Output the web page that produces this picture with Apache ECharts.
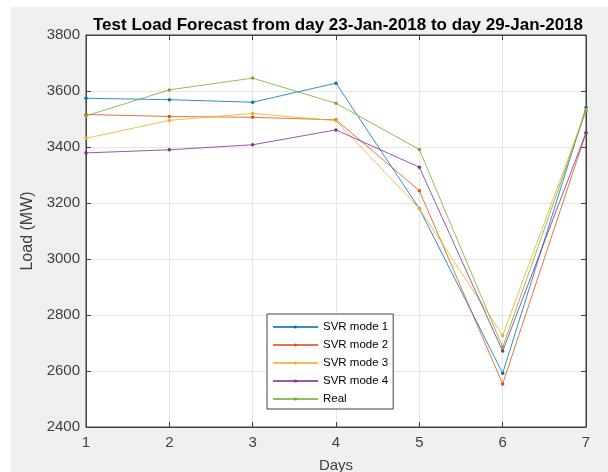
<!DOCTYPE html>
<html>
<head>
<meta charset="utf-8">
<script src="https://cdn.jsdelivr.net/npm/echarts@6/dist/echarts.min.js"></script>
<style>
  html, body { margin: 0; padding: 0; background: #fff; }
  #chart { width: 608px; height: 472px; }
</style>
</head>
<body>
<div id="chart"></div>
<script>
// days on the x axis
var days = [1, 2, 3, 4, 5, 6, 7];
var yTicks = [2400, 2600, 2800, 3000, 3200, 3400, 3600, 3800];

// load values (MW)
var svrMode1 = [3574, 3569, 3560, 3628, 3180, 2592, 3541];
var svrMode2 = [3516, 3509, 3506, 3497, 3244, 2554, 3450];
var svrMode3 = [3431, 3495, 3520, 3494, 3180, 2727, 3532];
var svrMode4 = [3379, 3390, 3408, 3461, 3328, 2671, 3451];
var realLoad = [3511, 3604, 3646, 3556, 3391, 2685, 3529];

var seriesNames = ['SVR mode 1', 'SVR mode 2', 'SVR mode 3', 'SVR mode 4', 'Real'];
var seriesColors = ['#0072BD', '#D95319', '#EDB120', '#7E2F8E', '#77AC30'];
var seriesValues = [svrMode1, svrMode2, svrMode3, svrMode4, realLoad];

var axisColor = '#404040';
var font = '"Liberation Sans", Arial, Helvetica, sans-serif';

function pairs(vals) {
    return days.map(function (d, i) { return [d, vals[i]]; });
}

var series = seriesNames.map(function (name, i) {
    return {
        name: name,
        type: 'line',
        data: pairs(seriesValues[i]),
        symbol: 'circle',
        symbolSize: 3.5,
        showSymbol: true,
        animation: false,
        lineStyle: { width: 1, color: seriesColors[i], opacity: 0.8 },
        itemStyle: { color: seriesColors[i] },
        emphasis: { disabled: true }
    };
});

var chart = echarts.init(document.getElementById('chart'));
var option = {
    animation: false,
    graphic: [{
        type: 'rect',
        left: 11, top: 7,
        shape: { width: 597, height: 465 },
        style: { fill: '#f0f0f0' },
        z: -10
    }],
    title: {
        text: 'Test Load Forecast from day 23-Jan-2018 to day 29-Jan-2018',
        left: 333, top: 12, textAlign: 'center',
        textStyle: { fontFamily: font, fontSize: 17, fontWeight: 'bold', color: '#000' }
    },
    grid: {
        left: 86, right: 22, top: 35, bottom: 45,
        outerBoundsMode: 'none',
        show: true, backgroundColor: '#fff', borderColor: axisColor, borderWidth: 1
    },
    legend: {
        orient: 'vertical',
        left: 267, top: 314,
        data: seriesNames,
        itemWidth: 45, itemHeight: 4, itemGap: 6,
        padding: [7, 5, 4, 5],
        backgroundColor: '#fff',
        borderColor: axisColor, borderWidth: 1,
        textStyle: { fontFamily: font, fontSize: 11.5, color: '#000', padding: [0, 0, 0, 0] }
    },
    xAxis: [{
        type: 'value', min: 1, max: 7, interval: 1,
        name: 'Days', nameLocation: 'middle', nameGap: 31,
        nameTextStyle: { fontFamily: font, fontSize: 15, color: axisColor },
        axisLine: { show: true, lineStyle: { color: axisColor } },
        axisTick: { show: true, inside: true, length: 5, lineStyle: { color: axisColor } },
        axisLabel: { fontFamily: font, fontSize: 15, color: axisColor, margin: 8 },
        splitLine: { show: true, lineStyle: { color: '#e6e6e6' } }
    }, {
        type: 'value', min: 1, max: 7, interval: 1, position: 'top',
        axisLine: { show: true, lineStyle: { color: axisColor } },
        axisTick: { show: true, inside: true, length: 5, lineStyle: { color: axisColor } },
        axisLabel: { show: false }, splitLine: { show: false }
    }],
    yAxis: [{
        type: 'value', min: yTicks[0], max: yTicks[yTicks.length - 1], interval: 200,
        name: 'Load (MW)', nameLocation: 'middle', nameGap: 33,
        nameTextStyle: { fontFamily: font, fontSize: 16, color: axisColor },
        axisLine: { show: true, lineStyle: { color: axisColor } },
        axisTick: { show: true, inside: true, length: 5, lineStyle: { color: axisColor } },
        axisLabel: { fontFamily: font, fontSize: 15, color: axisColor, margin: 6,
            formatter: function (v) { return String(v); } },
        splitLine: { show: true, lineStyle: { color: '#e6e6e6' } }
    }, {
        type: 'value', min: yTicks[0], max: yTicks[yTicks.length - 1], interval: 200, position: 'right',
        axisLine: { show: true, lineStyle: { color: axisColor } },
        axisTick: { show: true, inside: true, length: 5, lineStyle: { color: axisColor } },
        axisLabel: { show: false }, splitLine: { show: false }
    }],
    series: series
};
chart.setOption(option);
</script>
</body>
</html>
